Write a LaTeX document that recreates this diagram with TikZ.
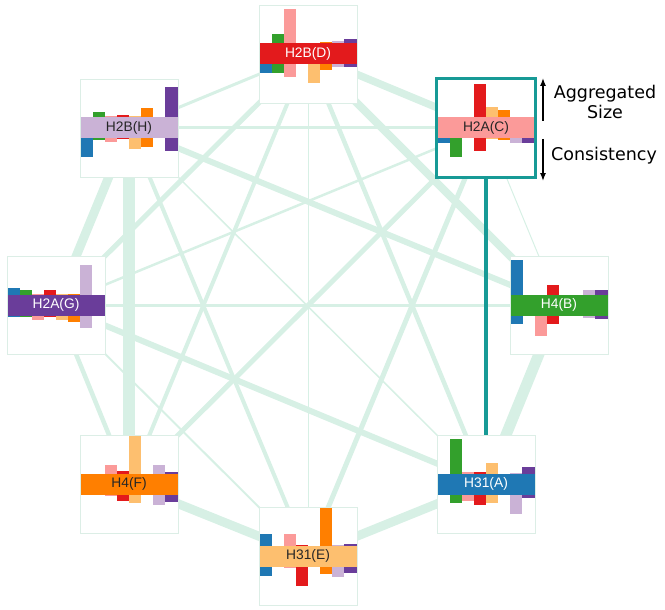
\documentclass[tikz,border=0pt]{standalone}
\usepackage{fontspec}
\usepackage{xcolor}
\usepackage{tikz}
\usetikzlibrary{arrows.meta,positioning,backgrounds}

\newfontfamily\labelfont{Liberation Sans}
\newfontfamily\legendfont{DejaVu Sans}

\definecolor{colA}{HTML}{1F78B4}
\definecolor{colB}{HTML}{33A02C}
\definecolor{colC}{HTML}{FB9A99}
\definecolor{colD}{HTML}{E31A1C}
\definecolor{colE}{HTML}{FDBF6F}
\definecolor{colF}{HTML}{FF7F00}
\definecolor{colG}{HTML}{6A3D9A}
\definecolor{colH}{HTML}{CAB2D6}
\definecolor{tealsel}{RGB}{23,154,150}
\definecolor{linkgreen}{RGB}{215,240,229}
\definecolor{cellborder}{RGB}{220,238,230}

\begin{document}
\begin{tikzpicture}[
    x=1pt, y=-1pt,
    cell/.style={rectangle, draw=cellborder, fill=white, line width=0.8pt, minimum size=98pt, inner sep=0pt},
    band/.style={rectangle, minimum width=97pt, minimum height=21pt, inner sep=0pt, font=\labelfont\fontsize{13.8}{15}\selectfont},
    tie/.style={draw=linkgreen, line width=#1},
    selected/.style={draw=tealsel, line width=#1},
    legend/.style={font=\legendfont\fontsize{17.5}{20}\selectfont, align=center, inner sep=0pt},
    arrow/.style={-{Latex[length=8pt,width=6pt]}, line width=1.3pt}
]
    \useasboundingbox (0,0) rectangle (665,610);

    % H2B(D)
    \node[cell] (D) at (308,54) {};
    \foreach \kk/\col/\hi/\lo in {0/colA/0/9, 1/colB/9/9, 2/colC/34/13, 4/colE/0/19, 5/colF/1.5/6, 6/colH/2/3, 7/colG/4/3}
        \fill[\col, shift={(D.center)}] (-48.5+12.125*\kk, -10.5-\hi) rectangle ++(12.125, 21+\hi+\lo);
    \node[band, fill=colD, text=white] (Dband) at (D) {H2B(D)};

    % H2A(C), selected
    \node[cell, draw=none] (C) at (486,128) {};
    \foreach \kk/\col/\hi/\lo in {0/colA/0/5, 1/colB/0/19, 3/colD/33/13, 4/colE/10/0.5, 5/colF/7/1.5, 6/colH/0.5/5, 7/colG/0.5/5}
        \fill[\col, shift={(C.center)}] (-48.5+12.125*\kk, -10.5-\hi) rectangle ++(12.125, 21+\hi+\lo);
    \node[band, fill=colC, text=black!85] (Cband) at (C) {H2A(C)};
    \draw[selected=3pt] (C.north west) rectangle (C.south east);

    % H2B(H)
    \node[cell] (H) at (129,128) {};
    \foreach \kk/\col/\hi/\lo in {0/colA/0/19, 1/colB/5/1.5, 2/colC/1.5/4, 3/colD/2.5/1, 4/colE/1/10.5, 5/colF/9/9, 7/colG/30/12.5}
        \fill[\col, shift={(H.center)}] (-48.5+12.125*\kk, -10.5-\hi) rectangle ++(12.125, 21+\hi+\lo);
    \node[band, fill=colH, text=black!85] (Hband) at (H) {H2B(H)};

    % H2A(G)
    \node[cell] (G) at (56,305) {};
    \foreach \kk/\col/\hi/\lo in {0/colA/7/1, 1/colB/5/1.5, 2/colC/1/4, 3/colD/4.5/1, 4/colE/1/4, 5/colF/1/6, 6/colH/30/12}
        \fill[\col, shift={(G.center)}] (-48.5+12.125*\kk, -10.5-\hi) rectangle ++(12.125, 21+\hi+\lo);
    \node[band, fill=colG, text=white] (Gband) at (G) {H2A(G)};

    % H4(B)
    \node[cell] (B) at (559,305) {};
    \foreach \kk/\col/\hi/\lo in {0/colA/35/8, 2/colC/0/20, 3/colD/10/8, 6/colH/5/2.5, 7/colG/5/3.5}
        \fill[\col, shift={(B.center)}] (-48.5+12.125*\kk, -10.5-\hi) rectangle ++(12.125, 21+\hi+\lo);
    \node[band, fill=colB, text=white] (Bband) at (B) {H4(B)};

    % H4(F)
    \node[cell] (F) at (129,484) {};
    \foreach \kk/\col/\hi/\lo in {2/colC/9/1.5, 3/colD/2.5/6.5, 4/colE/38/8, 6/colH/9/10, 7/colG/1.5/7}
        \fill[\col, shift={(F.center)}] (-48.5+12.125*\kk, -10.5-\hi) rectangle ++(12.125, 21+\hi+\lo);
    \node[band, fill=colF, text=black!85] (Fband) at (F) {H4(F)};

    % H31(A)
    \node[cell] (A) at (486,484) {};
    \foreach \kk/\col/\hi/\lo in {1/colB/35/8, 2/colC/2/6, 3/colD/1.5/10.5, 4/colE/11/8, 6/colH/0.5/19, 7/colG/6.5/3}
        \fill[\col, shift={(A.center)}] (-48.5+12.125*\kk, -10.5-\hi) rectangle ++(12.125, 21+\hi+\lo);
    \node[band, fill=colA, text=white] (Aband) at (A) {H31(A)};

    % H31(E)
    \node[cell] (E) at (308,556) {};
    \foreach \kk/\col/\hi/\lo in {0/colA/11.5/9, 2/colC/11.5/1.5, 3/colD/0.5/19, 5/colF/38/7, 6/colH/0.5/10.5, 7/colG/1.5/6}
        \fill[\col, shift={(E.center)}] (-48.5+12.125*\kk, -10.5-\hi) rectangle ++(12.125, 21+\hi+\lo);
    \node[band, fill=colE, text=black!85] (Eband) at (E) {H31(E)};

    % links
    \begin{scope}[on background layer]
        \draw[tie=3pt] (D.center) -- (H.center);
        \draw[tie=7.5pt] (D.center) -- (C.center);
        \draw[tie=8pt] (D.center) -- (B.center);
        \draw[tie=5pt] (D.center) -- (G.center);
        \draw[tie=4pt] (D.center) -- (F.center);
        \draw[tie=1pt] (D.center) -- (E.center);
        \draw[tie=4.5pt] (D.center) -- (A.center);
        \draw[tie=3pt] (H.center) -- (C.center);
        \draw[tie=6pt] (H.center) -- (B.center);
        \draw[tie=9pt] (H.center) -- (G.center);
        \draw[tie=12pt] (H.center) -- (F.center);
        \draw[tie=4pt] (H.center) -- (E.center);
        \draw[tie=1.5pt] (H.center) -- (A.center);
        \draw[tie=2.5pt] (C.center) -- (G.center);
        \draw[tie=5pt] (C.center) -- (F.center);
        \draw[tie=5pt] (C.center) -- (E.center);
        \draw[tie=1pt] (C.center) -- (B.center);
        \draw[tie=3pt] (G.center) -- (B.center);
        \draw[tie=4.5pt] (G.center) -- (F.center);
        \draw[tie=6pt] (G.center) -- (A.center);
        \draw[tie=2pt] (G.center) -- (E.center);
        \draw[tie=11pt] (A.center) -- (B.center);
        \draw[tie=9pt] (F.center) -- (E.center);
        \draw[tie=9pt] (E.center) -- (A.center);
        \draw[selected=4pt] (C.center) -- (A.center);
    \end{scope}

    % legend
    \node[legend] (agg) at (605,102) {Aggregated\\Size};
    \node[legend] (cons) at (604,156) {Consistency};
    \coordinate (aggbot) at (543,121);
    \coordinate (aggtop) at (543,78);
    \coordinate (constop) at (543,139);
    \coordinate (consbot) at (543,181);
    \draw[arrow] (aggbot) -- (aggtop);
    \draw[arrow] (constop) -- (consbot);
\end{tikzpicture}
\end{document}
